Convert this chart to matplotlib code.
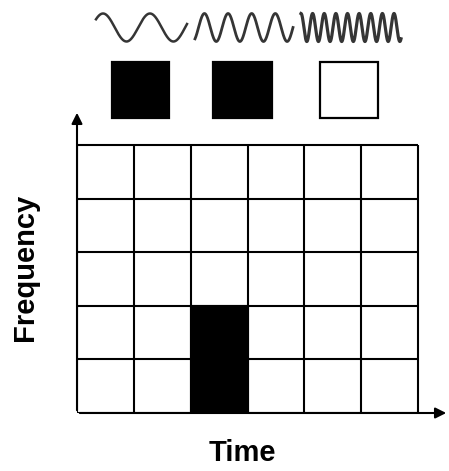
import numpy as np
import matplotlib.pyplot as plt
import matplotlib.patches as mpatches

# grid of time/frequency cells
n_cols = 6
n_rows = 5
filled_cells = [(2, 0), (2, 1)]  # (column, row) that are blacked out

# signals shown above the grid
wave_cycles = [1.94, 4.15, 8.6]
wave_filled = [True, True, False]

x_label = 'Time'
y_label = 'Frequency'

W, H = 449, 471
fig = plt.figure(figsize=(W / 100, H / 100), dpi=100)
fig.patch.set_facecolor('white')

# layout, in pixels
gx0, gx1, gy0, gy1 = 77, 418, 145, 413
cw = (gx1 - gx0) / n_cols
ch = (gy1 - gy0) / n_rows
xmax = (449 - gx0) / cw
ymax = (gy1 - 110) / ch

ax = fig.add_axes([gx0 / W, 1 - gy1 / H, (449 - gx0) / W, (gy1 - 110) / H])
ax.set_xlim(0, xmax)
ax.set_ylim(0, ymax)
ax.axis('off')

for c, r in filled_cells:
    ax.add_patch(mpatches.Rectangle((c, r), 1, 1, facecolor='black', edgecolor='black', lw=1.5))

for i in range(n_cols + 1):
    ax.plot([i, i], [0, n_rows], color='black', lw=1.5, solid_capstyle='butt')
for j in range(n_rows + 1):
    ax.plot([0, n_cols], [j, j], color='black', lw=1.5, solid_capstyle='butt')

# axis arrows
ax.annotate('', xy=(xmax, 0), xytext=(0, 0),
            arrowprops=dict(arrowstyle='-|>', color='black', lw=1.5, mutation_scale=16),
            annotation_clip=False)
ax.annotate('', xy=(0, ymax), xytext=(0, 0),
            arrowprops=dict(arrowstyle='-|>', color='black', lw=1.5, mutation_scale=16),
            annotation_clip=False)

# top strip: waves and boxes
top = fig.add_axes([gx0 / W, 1 - 122 / H, (449 - gx0) / W, 117 / H])
top.set_xlim(0, xmax)
top.set_ylim(122, 5)
top.axis('off')

wave_x = [(96, 187), (195, 293), (301, 401)]
wave_phase = [-0.15, -0.4, 0.0]
wave_lw = [1.8, 2.0, 2.3]
box_x = [(112, 169), (213, 272), (320, 378)]
for (a, b), cyc, ph, lw, (sa, sb), filled in zip(wave_x, wave_cycles, wave_phase, wave_lw,
                                                 box_x, wave_filled):
    t = np.linspace(0, 1, 800)
    xs = (a + t * (b - a) - gx0) / cw
    ys = 27.5 - 14 * np.cos(2 * np.pi * (cyc * t + ph))
    top.plot(xs, ys, color='#353535', lw=lw)
    top.add_patch(mpatches.Rectangle(((sa - gx0) / cw, 62), (sb - sa) / cw, 56,
                                     facecolor='black' if filled else 'white',
                                     edgecolor='black', lw=1.6))

fig.text(242 / W, 1 - 453 / H, x_label, ha='center', va='center',
         fontsize=21, fontweight='bold', family='Liberation Sans')
fig.text(25 / W, 1 - 267 / H, y_label, ha='center', va='center', rotation=90,
         fontsize=21, fontweight='bold', family='Liberation Sans')

fig.savefig('out.png', dpi=100)
